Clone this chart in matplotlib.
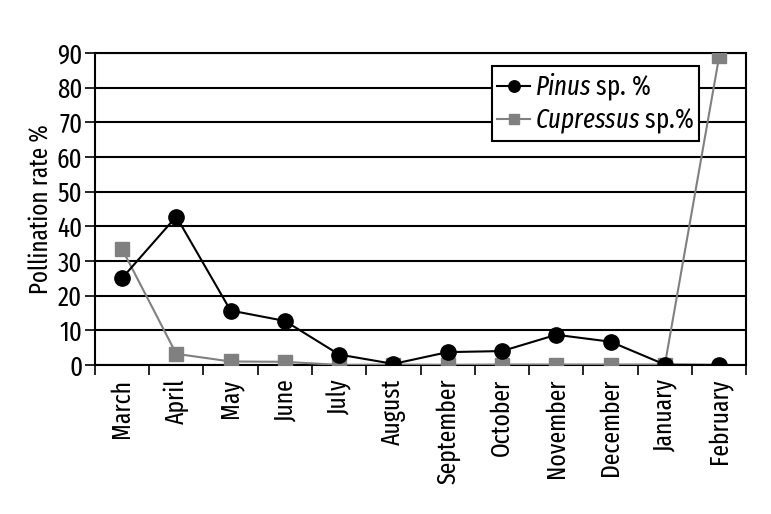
import matplotlib
matplotlib.use("Agg")
import matplotlib.pyplot as plt
import numpy as np

fnt = 'Fira Sans Extra Condensed'
plt.rcParams['font.family'] = [fnt, 'DejaVu Sans']
plt.rcParams['mathtext.fontset'] = 'custom'
plt.rcParams['mathtext.it'] = fnt + ':italic'
plt.rcParams['mathtext.rm'] = fnt

months = ["March", "April", "May", "June", "July", "August", "September",
          "October", "November", "December", "January", "February"]
pinus = [25, 42.8, 15.7, 12.7, 3.0, 0.3, 3.7, 4.0, 8.7, 6.7, 0.1, 0.0]
cupressus = [33.5, 3.2, 1.0, 0.9, 0.0, 0.1, 0.0, 0.1, 0.1, 0.1, 0.1, 89]

fig = plt.figure(figsize=(7.71, 5.14), dpi=100)
ax = fig.add_axes([0.123, 0.290, 0.845, 0.607])

x = np.arange(len(months))
ax.plot(x, pinus, color="black", lw=1.5, marker="o", ms=11,
        label=r"$\mathit{Pinus}$ sp. %", zorder=5)
ax.plot(x, cupressus, color="#808080", lw=1.5, marker="s", ms=10,
        label=r"$\mathit{Cupressus}$ sp.%", zorder=4)

ax.set_xlim(-0.5, len(months) - 0.5)
ax.set_ylim(0, 90)
ax.set_yticks(np.arange(0, 91, 10))
ax.yaxis.grid(True, color="black", lw=1.5)
ax.set_axisbelow(True)

ax.set_xticks(x)
ax.set_xticklabels(months, rotation=90, fontsize=18.5)
ax.tick_params(axis="x", length=0, pad=10)
ax.set_xticks(np.arange(-0.5, len(months)), minor=True)
ax.tick_params(axis="x", which="minor", length=7, width=1.2, direction="out")
ax.tick_params(axis="y", labelsize=19.5, length=7, width=1.2, pad=2)

for s in ax.spines.values():
    s.set_linewidth(1.5)

ax.set_ylabel("Pollination rate %", fontsize=18, labelpad=2)

leg = ax.legend(loc="upper right", bbox_to_anchor=(0.928, 0.958), fontsize=19.5,
                frameon=True, fancybox=False, edgecolor="black", framealpha=1,
                handlelength=1.2, handletextpad=0.2, borderpad=0.2, labelspacing=0.15,
                markerscale=0.75, borderaxespad=0)
leg.get_frame().set_linewidth(1.5)

fig.savefig("out.png", dpi=100)
